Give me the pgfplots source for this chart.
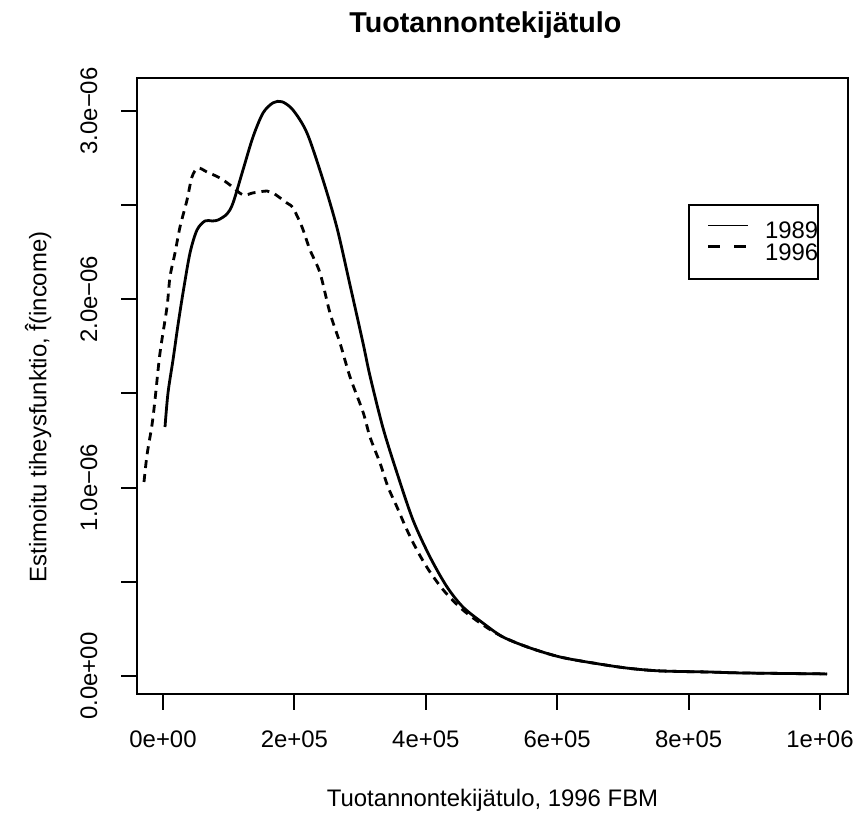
\documentclass[border=0pt]{standalone}
\usepackage{fontspec}
\setmainfont{Liberation Sans}
\usepackage{pgfplots}
\pgfplotsset{compat=1.18}

\begin{document}
\begin{tikzpicture}
\useasboundingbox (0,0) rectangle (428.5bp,408.5bp);
\begin{axis}[
  at={(68.5bp,61.5bp)}, anchor=south west,
  scale only axis,
  width=355.5bp, height=308bp,
  xmin=-39574, xmax=1042618,
  ymin=-0.0956e-6, ymax=3.175e-6,
  scaled x ticks=false, scaled y ticks=false,
  xtick={0,200000,400000,600000,800000,1000000},
  xticklabels={0e+00,2e+05,4e+05,6e+05,8e+05,1e+06},
  ytick={0,0.5e-6,1e-6,1.5e-6,2e-6,2.5e-6,3e-6},
  yticklabels={0.0e+00,,1.0e−06,,2.0e−06,,3.0e−06},
  xtick pos=bottom, ytick pos=left,
  tick align=outside,
  major tick length=8bp,
  tick style={black, line width=1bp},
  axis line style={line width=0.8bp},
  font=\fontsize{12}{14}\selectfont,
  xticklabel style={anchor=center, yshift=-14.5bp},
  yticklabel style={xshift=-16bp, rotate=90, anchor=center},
  xlabel={Tuotannontekijätulo, 1996 FBM},
  ylabel={Estimoitu tiheysfunktio, \^{f}(income)},
  xlabel style={at={(axis description cs:0.5,-0.172)}, anchor=center},
  ylabel style={at={(axis description cs:-0.139,0.466)}, anchor=center},
  title={Tuotannontekijätulo},
  every axis title shift=0pt,
  title style={at={(axis description cs:0.49,1.086)}, anchor=center,
    font=\bfseries\fontsize{14.4}{17}\selectfont},
  legend image code/.code={
    \path[draw=none, fill=none] (0bp,0bp) rectangle (38bp,8.6bp);
    \draw[#1] (9.5bp,4.3bp) -- (29.5bp,4.3bp);
  },
  legend style={at={(axis description cs:0.775,0.7955)}, anchor=north west,
    draw=black, line width=1bp, inner xsep=0pt, inner ysep=5.8bp,
    nodes={inner sep=0pt, text height=8.6bp, text depth=3.4bp},
    font=\fontsize{12}{14}\selectfont, row sep=-4bp},
]
% 1989
\addplot[black, line width=1.4bp, smooth, forget plot] coordinates {
  (3044,1.322e-6) (7610,1.503e-6) (15221,1.678e-6) (22831,1.864e-6)
  (30441,2.034e-6) (41096,2.246e-6) (51750,2.368e-6) (63927,2.416e-6)
  (74581,2.416e-6) (83714,2.421e-6) (97412,2.453e-6) (106545,2.511e-6)
  (121766,2.687e-6) (136986,2.862e-6) (152207,2.989e-6) (167428,3.043e-6)
  (181126,3.049e-6) (197869,3.005e-6) (219178,2.883e-6) (243531,2.634e-6)
  (264840,2.379e-6) (284628,2.076e-6) (304414,1.768e-6) (315069,1.593e-6)
  (334856,1.317e-6) (356165,1.078e-6) (380518,0.828e-6) (406394,0.632e-6)
  (432270,0.473e-6) (456623,0.366e-6) (487066,0.281e-6) (517507,0.207e-6)
  (558600,0.149e-6) (604262,0.101e-6) (654490,0.069e-6) (706240,0.042e-6)
  (756469,0.027e-6) (832572,0.021e-6) (882800,0.016e-6) (1010654,0.011e-6)
};
% 1996
\addplot[black, line width=1.4bp, dash pattern=on 4bp off 3bp, smooth, forget plot] coordinates {
  (-28919,1.030e-6) (-24353,1.173e-6) (-16743,1.333e-6) (-12177,1.466e-6)
  (-4566,1.715e-6) (6088,1.959e-6) (10654,2.119e-6) (18265,2.246e-6)
  (25875,2.384e-6) (36530,2.527e-6) (44140,2.650e-6) (53272,2.697e-6)
  (66971,2.676e-6) (86758,2.644e-6) (101979,2.607e-6) (121766,2.554e-6)
  (136986,2.565e-6) (158295,2.575e-6) (167428,2.565e-6) (188737,2.511e-6)
  (197869,2.485e-6) (211568,2.384e-6) (223745,2.262e-6) (238966,2.140e-6)
  (254187,1.927e-6) (269408,1.768e-6) (284628,1.588e-6) (304414,1.402e-6)
  (315069,1.269e-6) (330290,1.131e-6) (342466,1.004e-6) (356165,0.897e-6)
  (371386,0.775e-6) (388129,0.658e-6) (406394,0.552e-6) (429225,0.446e-6)
  (456623,0.350e-6) (487066,0.271e-6) (517507,0.207e-6)
  (558600,0.149e-6) (604262,0.101e-6) (654490,0.069e-6) (706240,0.042e-6)
  (756469,0.027e-6) (832572,0.021e-6) (882800,0.016e-6) (1010654,0.011e-6)
};
\addlegendimage{black, line width=0.6bp}
\addlegendentry{1989}
\addlegendimage{black, line width=1.5bp, dash pattern=on 6bp off 7bp}
\addlegendentry{1996}
\end{axis}
\end{tikzpicture}
\end{document}
